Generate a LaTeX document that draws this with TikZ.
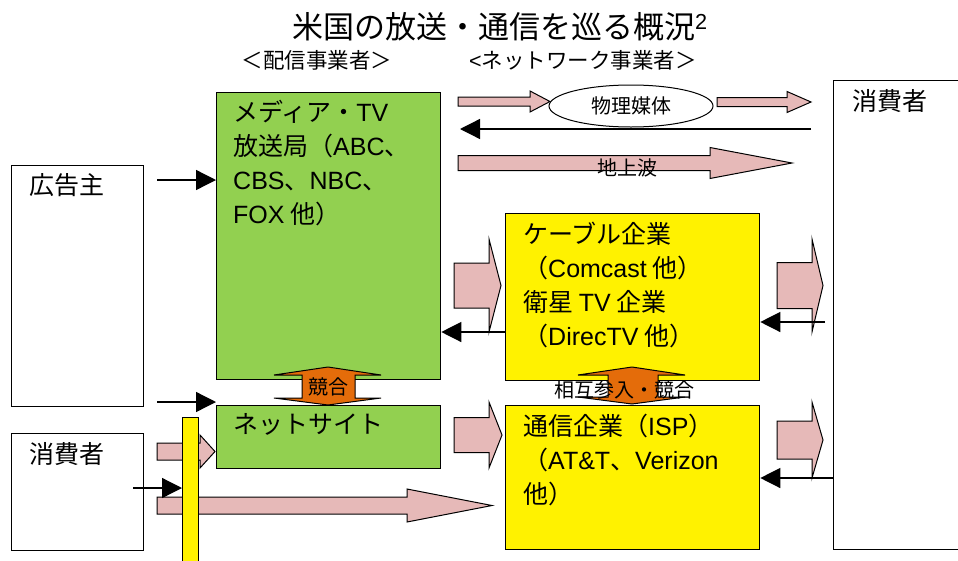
\documentclass[tikz,border=0pt]{standalone}
\usepackage{fontspec}
\setmainfont{Noto Sans CJK JP}
\newfontfamily\latinfont{Liberation Sans}
\newcommand{\lat}[1]{{\latinfont #1}}
\usetikzlibrary{positioning,arrows.meta,shapes.geometric}

\definecolor{mediagreen}{HTML}{92D050}
\definecolor{pinkfill}{HTML}{E6B9B8}
\definecolor{orangefill}{HTML}{E46C0A}

\tikzset{
  box/.style={draw, line width=1.3pt, inner sep=0pt, anchor=north west},
  txt/.style={anchor=north west, align=left, inner sep=0pt, font=\fontsize{25}{34}\selectfont},
  small/.style={inner sep=0pt, font=\fontsize{20}{22}\selectfont},
  blackarrow/.style={-{Triangle[length=20pt,width=20pt]}, line width=1.3pt},
  fat/.style={draw, fill=pinkfill, line width=1pt},
  clash/.style={draw, fill=orangefill, line width=1pt},
}

% block arrow: start x, tip x, y, shaft half, head half, head length
\newcommand{\fatarrow}[6]{%
  \draw[fat] (#1,#3-#4) -- (#2-#6,#3-#4) -- (#2-#6,#3-#5) -- (#2,#3)
    -- (#2-#6,#3+#5) -- (#2-#6,#3+#4) -- (#1,#3+#4) -- cycle;}

\begin{document}
\begin{tikzpicture}[x=1pt, y=-1pt]
\useasboundingbox (0,0) rectangle (958,560);

% Titles
\node (title) at (500,27) {\fontsize{31}{34}\selectfont 米国の放送・通信を巡る概況\textsuperscript{\lat{2}}};
\node[font=\fontsize{21.5}{24}\selectfont] (distrib) at (317,60) {＜配信事業者＞};
\node[font=\fontsize{21.5}{24}\selectfont] (netop) at (583,60) {\lat{<}ネットワーク事業者＞};

% Boxes
\node[box, fill=mediagreen, minimum width=224pt, minimum height=287pt] (media) at (216,92) {};
\node[box, fill=mediagreen, minimum width=224pt, minimum height=63pt] (site) at (216,405) {};
\node[box, minimum width=132pt, minimum height=241pt] (adv) at (11,165) {};
\node[box, minimum width=132pt, minimum height=117pt] (userL) at (11,433) {};
\node[box, fill=yellow, minimum width=254pt, minimum height=167pt] (cable) at (505,213) {};
\node[box, fill=yellow, minimum width=254pt, minimum height=144pt] (isp) at (505,405) {};
\node[box, minimum width=130pt, minimum height=469pt] (userR) at (833,80) {};

% Box texts
\node[txt] (mediatxt) at ([xshift=17pt,yshift=-8pt]media.north west) {メディア・\lat{TV}\\放送局（\lat{ABC}、\\\lat{CBS}、\lat{NBC}、\\\lat{FOX} 他）};
\node[txt] (sitetxt) at ([xshift=17pt,yshift=-8pt]site.north west) {ネットサイト};
\node[txt] (advtxt) at ([xshift=18pt,yshift=-8pt]adv.north west) {広告主};
\node[txt] (userLtxt) at ([xshift=18pt,yshift=-9pt]userL.north west) {消費者};
\node[txt] (cabletxt) at ([xshift=18pt,yshift=-9pt]cable.north west) {ケーブル企業\\（\lat{Comcast} 他）\\衛星 \lat{TV} 企業\\（\lat{DirecTV} 他）};
\node[txt] (isptxt) at ([xshift=18pt,yshift=-9pt]isp.north west) {通信企業（\lat{ISP}）\\（\lat{AT\&T}、\lat{Verizon}\\他）};
\node[txt] (userRtxt) at ([xshift=19pt,yshift=-9pt]userR.north west) {消費者};

% Top row
\fatarrow{458}{550}{101.5}{4.5}{10.5}{20}
\node[draw, ellipse, fill=white, line width=1pt, minimum width=164pt, minimum height=42pt, small] (medium) at (631,106) {物理媒体};
\fatarrow{717}{811}{102}{4.5}{10.5}{24}
\coordinate (backR) at (811,129);
\draw[blackarrow] (backR) -- (460,129);
\fatarrow{458}{792}{163}{7.5}{15.5}{82}
\node[small] (terr) at (627,168) {地上波};

% Middle and right block arrows
\fatarrow{454}{501}{285.5}{22.5}{46.5}{12}
\fatarrow{454}{502}{435}{17.5}{33}{13}
\fatarrow{777}{823}{285.5}{23}{46.5}{11}
\fatarrow{777}{823}{440}{19}{38}{11}
\draw[blackarrow] (cable.west |- 0,332) -- (media.east |- 0,332);
\coordinate (cableback) at (825,322);
\draw[blackarrow] (cableback) -- (cable.east |- 0,322);
\draw[blackarrow] (userR.west |- 0,478) -- (isp.east |- 0,478);

% Competition arrows
\draw[clash] (302,375) -- (274,375) -- (328,367) -- (381,375) -- (355,375)
  -- (355,398) -- (381,398) -- (328,405) -- (274,398) -- (302,398) -- cycle;
\node[small] (comp) at (328,387) {競合};
\draw[clash] (608,375) -- (578,375) -- (632,367) -- (685,375) -- (658,375)
  -- (658,397) -- (685,397) -- (632,404) -- (578,397) -- (608,397) -- cycle;
\node[small] (entry) at (624,390) {相互参入・競合};

% Left side
\coordinate (advout1) at (157,180);
\coordinate (advout2) at (157,402);
\draw[blackarrow] (advout1) -- (media.west |- advout1);
\draw[blackarrow] (advout2) -- (site.west |- advout2);
\fatarrow{157}{215}{451.5}{8.5}{16.5}{15}
\fatarrow{157}{492}{505.5}{8.5}{16.5}{85}
\node[box, fill=yellow, line width=1pt, minimum width=16pt, minimum height=150pt] (gate) at (182,417) {};
\coordinate (userLout) at (133,488);
\draw[blackarrow] (userLout) -- (gate.west |- userLout);
\end{tikzpicture}
\end{document}
